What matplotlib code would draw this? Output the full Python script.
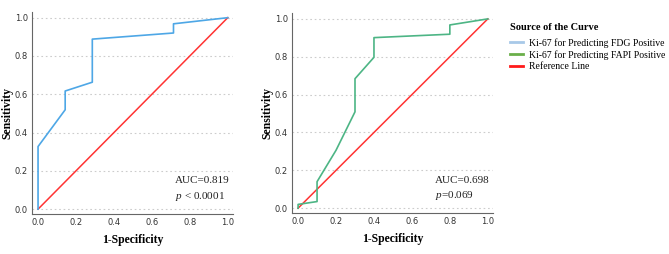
import matplotlib.pyplot as plt
from matplotlib.lines import Line2D

# ROC points
fdg_fpr = [0.0, 0.0, 0.143, 0.143, 0.286, 0.286, 0.714, 0.714, 1.0]
fdg_tpr = [0.0, 0.327, 0.519, 0.617, 0.663, 0.888, 0.92, 0.968, 1.0]
fapi_fpr = [0.0, 0.0, 0.1, 0.1, 0.2, 0.3, 0.3, 0.4, 0.4, 0.8, 0.8, 1.0]
fapi_tpr = [0.0, 0.02, 0.035, 0.14, 0.306, 0.509, 0.684, 0.797, 0.901, 0.919, 0.968, 1.0]
ticks = [0.0, 0.2, 0.4, 0.6, 0.8, 1.0]
auc_text = [("AUC=0.819", "$p$ < 0.0001"), ("AUC=0.698", "$p$=0.069")]
legend_labels = ["Ki-67 for Predicting FDG Positive",
                 "Ki-67 for Predicting FAPI Positive",
                 "Reference Line"]

serif = "Liberation Serif"
plt.rcParams["mathtext.fontset"] = "custom"
plt.rcParams["mathtext.it"] = "Liberation Serif:italic"
plt.rcParams["mathtext.rm"] = "Liberation Serif"

fig = plt.figure(figsize=(6.69, 2.54), dpi=100)
ax1 = fig.add_axes([0.0478, 0.157, 0.300, 0.796])
ax2 = fig.add_axes([0.4365, 0.161, 0.300, 0.787])

curves = [(ax1, fdg_fpr, fdg_tpr, "#4ea7e6"), (ax2, fapi_fpr, fapi_tpr, "#4db585")]
for i, (ax, x, y, c) in enumerate(curves):
    for t in ticks:
        ax.axhline(t, color="#cccccc", lw=0.8, ls=(0, (1.5, 2.5)), zorder=0)
    ax.plot([0, 1], [0, 1], color="#ff3333", lw=1.1, zorder=2)
    ax.plot(x, y, color=c, lw=1.2, zorder=3)
    ax.set_xlim(-0.032, 1.026)
    ax.set_ylim(-0.026, 1.03)
    ax.set_xticks(ticks)
    ax.set_yticks(ticks)
    ax.set_xticklabels([f"{t:.1f}" for t in ticks])
    ax.set_yticklabels([f"{t:.1f}" for t in ticks])
    ax.tick_params(length=0, labelsize=6, colors="#333333", pad=3)
    for s in ["top", "right"]:
        ax.spines[s].set_visible(False)
    for s in ["left", "bottom"]:
        ax.spines[s].set_color("#666666")
        ax.spines[s].set_linewidth(0.8)
    ax.set_xlabel("1-Specificity", fontfamily=serif, fontweight="bold", fontsize=8.5, labelpad=5)
    ax.set_ylabel("Sensitivity", fontfamily=serif, fontweight="bold", fontsize=8.5, labelpad=1)
    ax.text(0.72, 0.135, auc_text[i][0], fontfamily=serif, fontsize=8, color="#222222")
    ax.text(0.72, 0.055, auc_text[i][1], fontfamily=serif, fontsize=8, color="#222222")

handles = [Line2D([], [], color="#a8c9e8", lw=2),
           Line2D([], [], color="#6aaf4a", lw=2),
           Line2D([], [], color="#ff1a1a", lw=2)]
leg = fig.legend(handles, legend_labels, loc="upper left", bbox_to_anchor=(0.752, 0.935),
                 frameon=False, title="Source of the Curve",
                 prop={"family": serif, "size": 7}, handlelength=1.3,
                 handletextpad=0.7, labelspacing=0.25, borderpad=0.2)
leg._legend_box.align = "left"
leg._legend_box.sep = 4
leg.get_title().set_fontfamily(serif)
leg.get_title().set_fontweight("bold")
leg.get_title().set_fontsize(7.5)

fig.savefig("out.png", dpi=100)
